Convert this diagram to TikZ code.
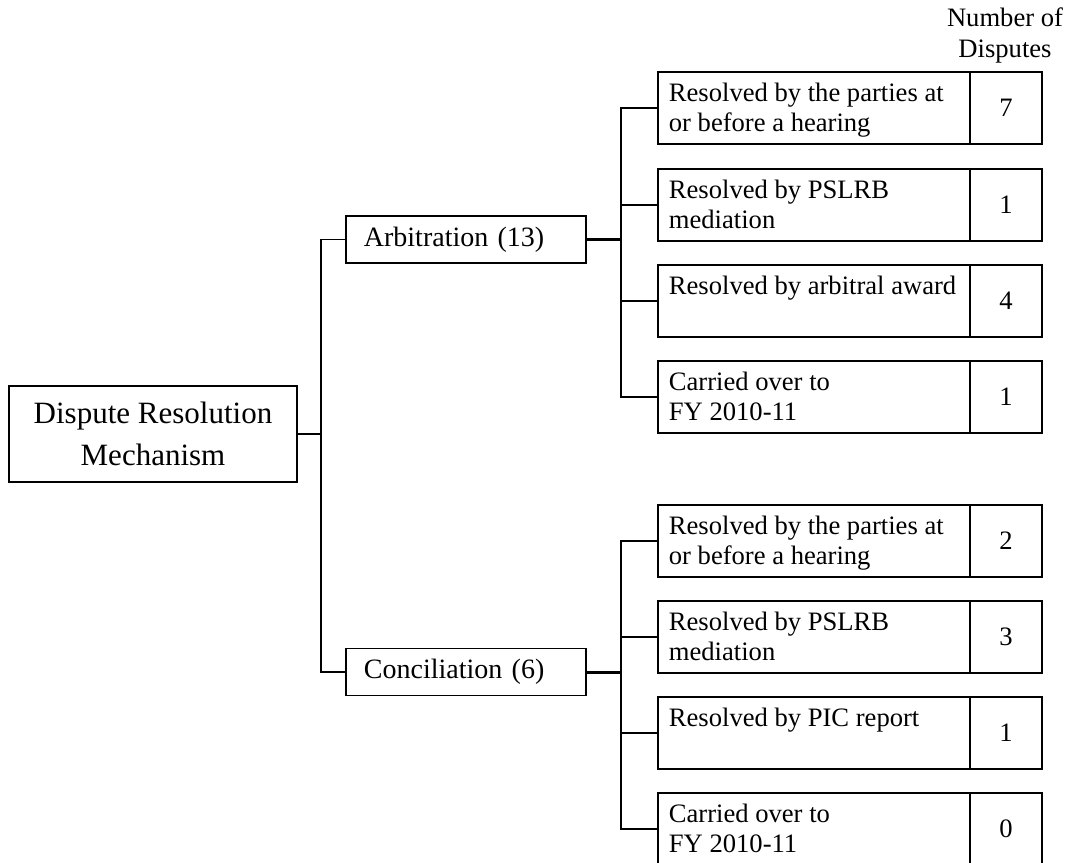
\documentclass[tikz,border=0pt]{standalone}
\usepackage{fontspec}
\setmainfont{Liberation Serif}
\newcommand\celltext[1]{\parbox[c][72pt][t]{290pt}{\raggedright\rule{0pt}{30pt}#1}}
\begin{document}
\begin{tikzpicture}[x=1pt,y=-1pt,
  boxline/.style={draw=black,line width=1.8pt},
  conn/.style={draw=black,line width=1.8pt,line join=miter},
  thickconn/.style={draw=black,line width=3pt},
  rootbox/.style={boxline,minimum width=288pt,minimum height=96pt,inner sep=0pt,align=center,
    font=\fontsize{31}{42}\selectfont},
  midbox/.style={boxline,anchor=west,minimum height=47pt,inner ysep=0pt,inner xsep=18pt,
    text width=204pt,align=left,font=\fontsize{28}{32}\selectfont},
  lcell/.style={boxline,anchor=north west,inner ysep=0pt,inner xsep=11pt,
    font=\fontsize{26.6}{29.5}\selectfont},
  ncell/.style={boxline,anchor=north west,minimum width=72pt,minimum height=72pt,inner sep=0pt,
    font=\fontsize{26.6}{29.5}\selectfont},
  hdr/.style={inner sep=0pt,align=center,font=\fontsize{26.6}{31}\selectfont}
]
\useasboundingbox (0,0) rectangle (1070,862);

% header
\node[hdr] (hdr) at (1005,35.5) {Number of\\Disputes};

% root and middle level
\node[rootbox] (drm) at (153,434) {Dispute Resolution\\Mechanism};
\node[midbox] (arb) at (345,239.5) {Arbitration (13)};
\node[midbox] (conc) at (345,672) {Conciliation (6)};

% arbitration children
\node[lcell] (a1) at (657,71)  {\celltext{Resolved by the parties at\\or before a hearing}};
\node[ncell] (na1) at (969,71) {7};
\node[lcell] (a2) at (657,168) {\celltext{Resolved by PSLRB\\mediation}};
\node[ncell] (na2) at (969,168) {1};
\node[lcell] (a3) at (657,264) {\celltext{Resolved by arbitral award}};
\node[ncell] (na3) at (969,264) {4};
\node[lcell] (a4) at (657,360) {\celltext{Carried over to\\FY 2010-11}};
\node[ncell] (na4) at (969,360) {1};

% conciliation children
\node[lcell] (c1) at (657,504) {\celltext{Resolved by the parties at\\or before a hearing}};
\node[ncell] (nc1) at (969,504) {2};
\node[lcell] (c2) at (657,600) {\celltext{Resolved by PSLRB\\mediation}};
\node[ncell] (nc2) at (969,600) {3};
\node[lcell] (c3) at (657,696) {\celltext{Resolved by PIC report}};
\node[ncell] (nc3) at (969,696) {1};
\node[lcell] (c4) at (657,792) {\celltext{Carried over to\\FY 2010-11}};
\node[ncell] (nc4) at (969,792) {0};

% bracket positions
\coordinate (mx) at (321,0);
\coordinate (cx) at (621,0);

% root to middle level
\draw[conn,line width=2.2pt] (drm.east) -- (drm.east -| mx);
\draw[conn] (arb.west) -- (arb.west -| mx) -- (conc.west -| mx) -- (conc.west);

% arbitration bracket
\draw[thickconn] (arb.east) -- (arb.east -| cx);
\draw[conn] (a1.west) -- (a1.west -| cx) -- (a4.west -| cx) -- (a4.west);
\draw[conn] (a2.west -| cx) -- (a2.west);
\draw[conn] (a3.west -| cx) -- (a3.west);

% conciliation bracket
\draw[thickconn] (conc.east) -- (conc.east -| cx);
\draw[conn] (c1.west) -- (c1.west -| cx) -- (c4.west -| cx) -- (c4.west);
\draw[conn] (c2.west -| cx) -- (c2.west);
\draw[conn] (c3.west -| cx) -- (c3.west);
\end{tikzpicture}
\end{document}
